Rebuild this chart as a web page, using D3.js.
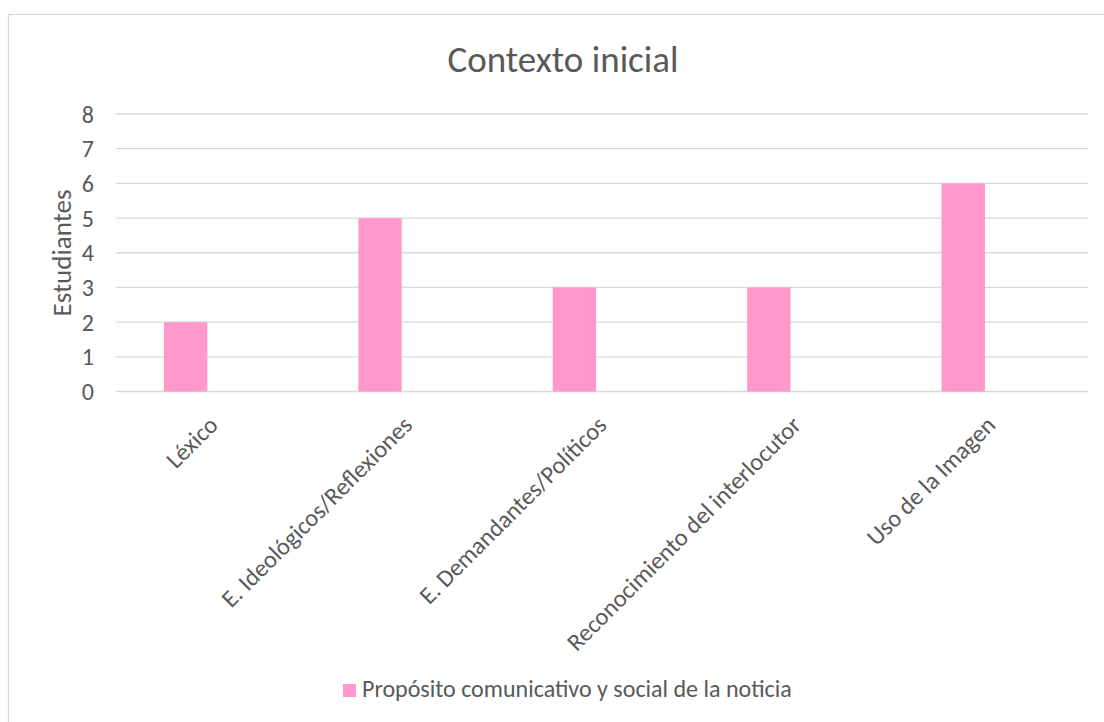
<!DOCTYPE html>
<html>
<head>
<meta charset="utf-8">
<script src="https://cdn.jsdelivr.net/npm/d3@7"></script>
<style>
  html, body { margin: 0; padding: 0; background: #fff; }
  svg { display: block; }
</style>
</head>
<body>
<svg id="chart" width="1104" height="722"></svg>
<script>
const categories = ["Léxico", "E. Ideológicos/Reflexiones", "E. Demandantes/Políticos", "Reconocimiento del interlocutor", "Uso de la Imagen"];
const values = [2, 5, 3, 3, 6];
const yTicks = [0, 1, 2, 3, 4, 5, 6, 7, 8];
const seriesName = "Propósito comunicativo y social de la noticia";
const chartTitle = "Contexto inicial";
const yTitle = "Estudiantes";

const FONT = "Carlito, Calibri, Lato, 'Open Sans', sans-serif";
const TXT = "#595959";
const GRID = "#d9d9d9";
const BAR = "#ff99cc";

const svg = d3.select("#chart");

// fit font size so a text has a given width
function fitSize(text, target) {
  const t = svg.append("text").attr("font-family", FONT).attr("font-size", 100).text(text);
  const w = t.node().getComputedTextLength();
  t.remove();
  return 100 * target / w;
}

// border
svg.append("rect").attr("x", 8.5).attr("y", 14.5).attr("width", 1200).attr("height", 800)
  .attr("fill", "#fff").attr("stroke", GRID).attr("stroke-width", 1.3);

const x = d3.scaleBand().domain(categories).range([116, 1088]).padding(0);
const y = d3.scaleLinear().domain([0, 8]).range([391.5, 114]);

// gridlines
svg.append("g").selectAll("line").data(yTicks).join("line")
  .attr("x1", 116).attr("x2", 1088)
  .attr("y1", d => y(d)).attr("y2", d => y(d))
  .attr("stroke", GRID).attr("stroke-width", 1.3);

// y tick labels
svg.append("g").selectAll("text").data(yTicks).join("text")
  .attr("x", 94).attr("y", d => y(d)).attr("dy", "0.36em")
  .attr("text-anchor", "end")
  .style("font-family", FONT).style("font-size", "24px")
  .attr("fill", TXT).text(d => d);

// bars (offset within category like an Excel clustered column)
const bw = x.bandwidth();
svg.append("g").selectAll("rect").data(categories).join("rect")
  .attr("x", d => x(d) + bw * 0.2465)
  .attr("width", bw * 0.2233)
  .attr("y", (d, i) => y(values[i]))
  .attr("height", (d, i) => y(0) - y(values[i]))
  .attr("fill", BAR);

// x labels
const xSize = fitSize("E. Ideológicos/Reflexiones", 258);
svg.append("g").selectAll("text").data(categories).join("text")
  .attr("transform", d => `translate(${x(d) + bw / 2},${420.5}) rotate(-45)`)
  .attr("dy", "0.35em")
  .attr("text-anchor", "end").attr("font-family", FONT).attr("font-size", xSize)
  .attr("fill", TXT).text(d => d);

// title
svg.append("text").attr("x", 563).attr("y", 72)
  .attr("text-anchor", "middle").attr("font-family", FONT)
  .attr("font-size", fitSize(chartTitle, 231)).attr("fill", TXT).text(chartTitle);

// y title
svg.append("text").attr("transform", "translate(62,253) rotate(-90)")
  .attr("dy", "0.35em")
  .attr("text-anchor", "middle").attr("font-family", FONT)
  .attr("font-size", fitSize(yTitle, 127)).attr("fill", TXT).text(yTitle);

// legend
svg.append("rect").attr("x", 343).attr("y", 684).attr("width", 13).attr("height", 13).attr("fill", BAR);
svg.append("text").attr("x", 362).attr("y", 697)
  .attr("font-family", FONT).attr("font-size", fitSize(seriesName, 430))
  .attr("fill", TXT).text(seriesName);
</script>
</body>
</html>
